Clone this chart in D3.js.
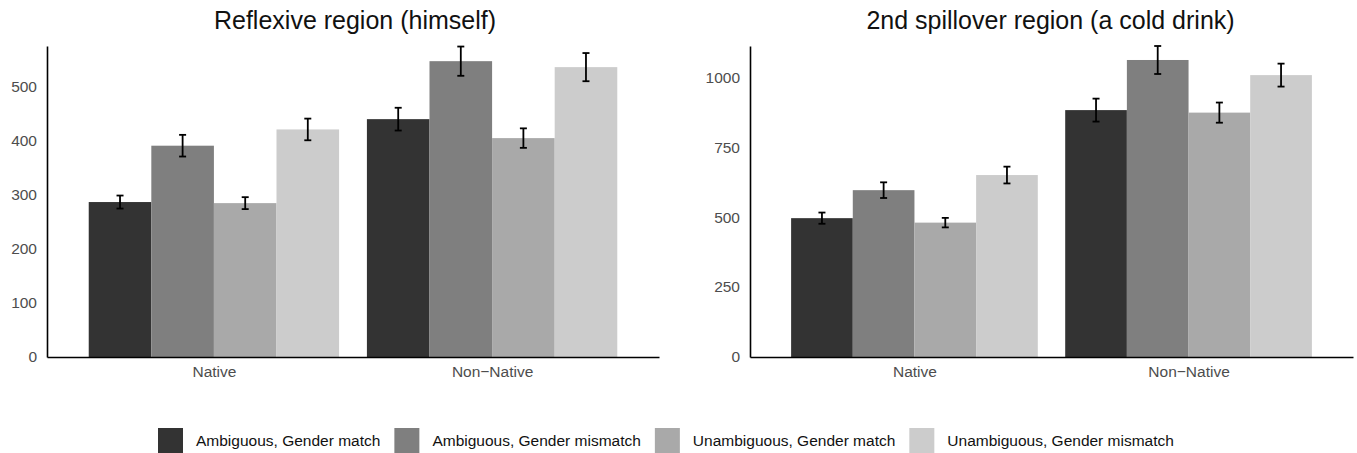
<!DOCTYPE html>
<html>
<head>
<meta charset="utf-8">
<script src="https://cdn.jsdelivr.net/npm/d3@7"></script>
<style>
  body { margin: 0; background: #fff; }
  text { font-family: "Liberation Sans", Arial, sans-serif; }
</style>
</head>
<body>
<svg id="chart" width="1357" height="453"></svg>
<script>
// data
const groups = ["Native", "Non\u2212Native"];
const conditions = ["Ambiguous, Gender match", "Ambiguous, Gender mismatch", "Unambiguous, Gender match", "Unambiguous, Gender mismatch"];
const colors = ["#333333", "#7f7f7f", "#a9a9a9", "#cccccc"];

const reflexiveMeans = [[286, 390, 284, 420], [439, 546, 404, 535]];
const reflexiveErr = [[12, 20, 11, 20], [21, 27, 18, 26]];
const reflexiveTicks = [0, 100, 200, 300, 400, 500];

const spilloverMeans = [[496, 596, 480, 650], [882, 1061, 873, 1007]];
const spilloverErr = [[20, 28, 17, 30], [41, 50, 36, 41]];
const spilloverTicks = [0, 250, 500, 750, 1000];

const svg = d3.select("#chart");
const color = d3.scaleOrdinal().domain(conditions).range(colors);

function panel(opt) {
  const g = svg.append("g");
  // discrete positions 1..2 with 0.6 expansion each side
  const x = d3.scaleLinear().domain([0.4, 2.6]).range([opt.left, opt.right]);
  const y = d3.scaleLinear().domain([0, opt.ymax]).range([357, 46]);
  const barW = x(1.9) - x(1);
  const sub = d3.scaleBand().domain(conditions).range([0, barW]).padding(0);

  const rows = [];
  groups.forEach((grp, gi) => {
    conditions.forEach((c, ci) => {
      rows.push({grp: gi, cond: c, mean: opt.means[gi][ci], err: opt.err[gi][ci]});
    });
  });

  g.selectAll("rect.bar").data(rows).enter().append("rect")
    .attr("class", "bar")
    .attr("x", d => x(d.grp + 1) - barW / 2 + sub(d.cond))
    .attr("width", sub.bandwidth())
    .attr("y", d => y(d.mean))
    .attr("height", d => y(0) - y(d.mean))
    .attr("fill", d => color(d.cond));

  const eb = g.selectAll("g.err").data(rows).enter().append("g")
    .attr("class", "err")
    .attr("stroke", "#000").attr("stroke-width", 1.8);
  const cx = d => x(d.grp + 1) - barW / 2 + sub(d.cond) + sub.bandwidth() / 2;
  eb.append("line").attr("x1", cx).attr("x2", cx)
    .attr("y1", d => y(d.mean + d.err)).attr("y2", d => y(d.mean - d.err));
  eb.append("line").attr("x1", d => cx(d) - 3.5).attr("x2", d => cx(d) + 3.5)
    .attr("y1", d => y(d.mean + d.err)).attr("y2", d => y(d.mean + d.err));
  eb.append("line").attr("x1", d => cx(d) - 3.5).attr("x2", d => cx(d) + 3.5)
    .attr("y1", d => y(d.mean - d.err)).attr("y2", d => y(d.mean - d.err));

  // y axis
  const yAxis = g.append("g")
    .attr("transform", `translate(${opt.left},0)`)
    .call(d3.axisLeft(y).tickValues(opt.ticks).tickFormat(d3.format("d")).tickSize(0).tickPadding(10));
  yAxis.select(".domain").attr("stroke", "#000").attr("stroke-width", 1.6);
  yAxis.selectAll("text").attr("font-size", 15.5).attr("fill", "#4d4d4d");

  // x axis
  const xAxis = g.append("g")
    .attr("transform", `translate(0,${y(0)})`)
    .call(d3.axisBottom(x).tickValues([1, 2]).tickFormat((d, i) => groups[i]).tickSize(0).tickPadding(9));
  xAxis.select(".domain").attr("stroke", "#000").attr("stroke-width", 1.6);
  xAxis.selectAll("text").attr("font-size", 15.5).attr("fill", "#4d4d4d");

  g.append("text")
    .attr("x", (opt.left + opt.right) / 2 + opt.titleShift)
    .attr("y", 29)
    .attr("text-anchor", "middle")
    .attr("font-size", 25)
    .attr("fill", "#111")
    .text(opt.title);
}

panel({left: 47, right: 659, ymax: 574, means: reflexiveMeans, err: reflexiveErr,
       ticks: reflexiveTicks, title: "Reflexive region (himself)", titleShift: 2});
panel({left: 750, right: 1353, ymax: 1111, means: spilloverMeans, err: spilloverErr,
       ticks: spilloverTicks, title: "2nd spillover region (a cold drink)", titleShift: -1});

// legend
const legend = svg.append("g");
let lx = 0;
conditions.forEach((c, i) => {
  const item = legend.append("g").attr("transform", `translate(${lx},0)`);
  item.append("rect").attr("x", 0).attr("y", 428).attr("width", 25).attr("height", 25).attr("fill", color(c));
  const t = item.append("text").attr("x", 38).attr("y", 446).attr("font-size", 15.5).attr("fill", "#111").text(c);
  lx += 38 + t.node().getComputedTextLength() + 14;
});
legend.attr("transform", `translate(${158},0)`);
</script>
</body>
</html>
